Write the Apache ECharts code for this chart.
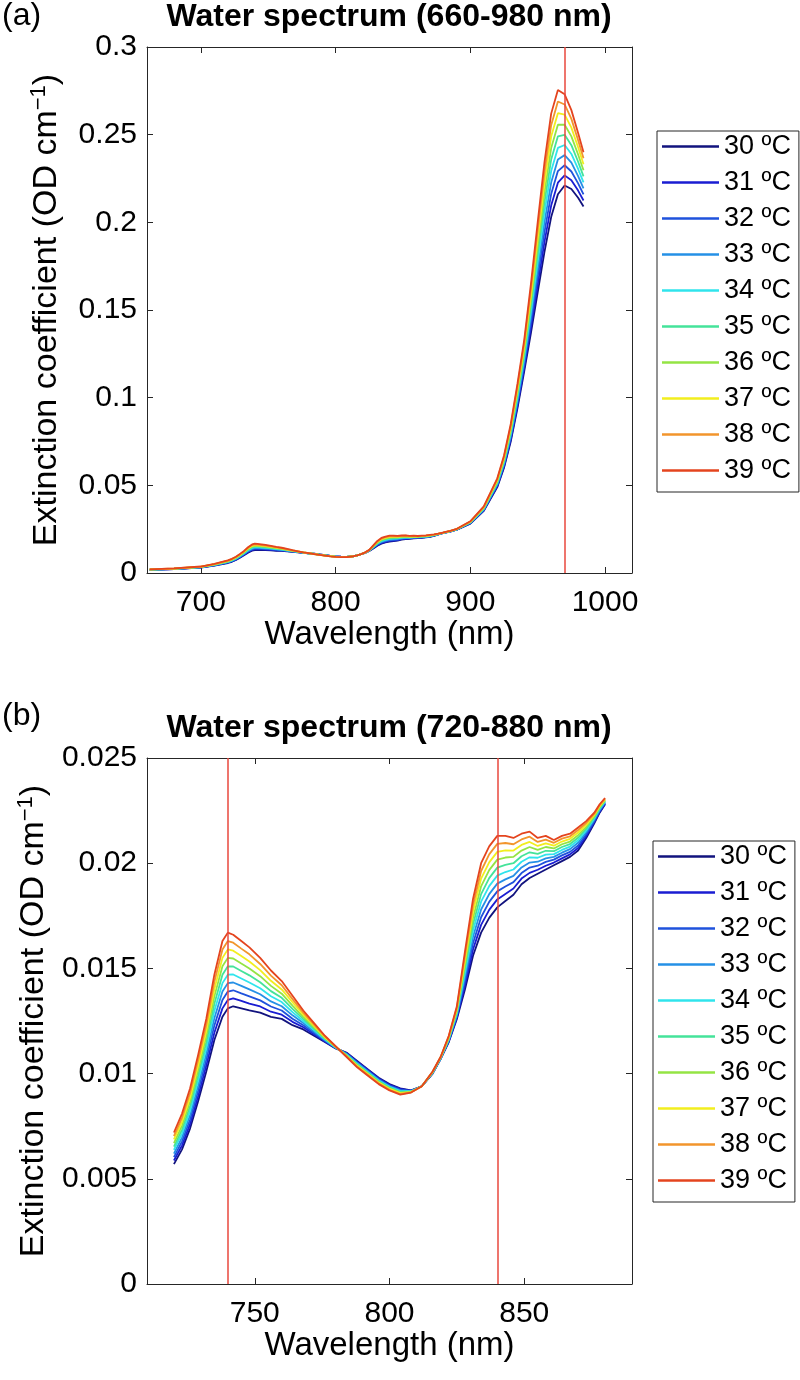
<!DOCTYPE html>
<html><head><meta charset="utf-8">
<script src="https://cdn.jsdelivr.net/npm/echarts@6/dist/echarts.min.js"></script>
<style>html,body{margin:0;padding:0;background:#fff}#c{width:800px;height:1380px}</style>
</head><body><div id="c"></div>
<script>
// Wavelength (nm)
const wavelength = [662,680,700,710,720,723,726,729,732,735,738,740,742,745,748,752,756,760,764,768,772,776,780,784,788,792,796,800,804,808,812,816,819,822,825,828,831,834,837,840,843,846,849,852,855,858,861,864,867,870,873,876,878,880,885,890,900,910,920,925,930,935,940,945,950,955,960,965,970,975,980,984];
// Extinction coefficient (OD cm^-1) per temperature
const t30 = [0.0018,0.0022,0.0031,0.0042,0.0057,0.0064,0.0074,0.0087,0.0101,0.0116,0.0127,0.0131,0.0132,0.0131,0.0130,0.0129,0.0127,0.0126,0.0123,0.0121,0.0118,0.0115,0.0112,0.0110,0.0106,0.0102,0.0098,0.0095,0.0093,0.0092,0.0094,0.0100,0.0107,0.0115,0.0126,0.0140,0.0156,0.0167,0.0174,0.0179,0.0182,0.0185,0.0190,0.0193,0.0195,0.0197,0.0199,0.0201,0.0203,0.0206,0.0212,0.0219,0.0224,0.0228,0.0236,0.0247,0.0282,0.0355,0.049,0.060,0.075,0.094,0.115,0.137,0.160,0.183,0.203,0.216,0.221,0.219,0.214,0.209];
const t31 = [0.00183,0.00224,0.00317,0.00431,0.00587,0.00659,0.00761,0.00894,0.01038,0.01194,0.0131,0.0135,0.01358,0.01346,0.01333,0.01319,0.01294,0.0128,0.01246,0.0122,0.01187,0.01153,0.01121,0.01098,0.01057,0.01017,0.00977,0.00947,0.00927,0.00919,0.0094,0.01001,0.01071,0.01153,0.01267,0.0142,0.0159,0.01707,0.01778,0.01828,0.01854,0.0188,0.01927,0.01954,0.01969,0.01988,0.02003,0.02023,0.02042,0.02072,0.02129,0.02196,0.02244,0.02283,0.02364,0.02476,0.02834,0.03578,0.04956,0.06078,0.07611,0.09556,0.117,0.14011,0.16444,0.18867,0.20956,0.22261,0.22678,0.224,0.21811,0.21244];
const t32 = [0.00187,0.00229,0.00323,0.00442,0.00603,0.00678,0.00782,0.00919,0.01066,0.01229,0.0135,0.0139,0.01396,0.01381,0.01367,0.01348,0.01319,0.013,0.01261,0.0123,0.01193,0.01157,0.01122,0.01096,0.01053,0.01013,0.00973,0.00943,0.00923,0.00918,0.0094,0.01002,0.01072,0.01157,0.01273,0.0144,0.0162,0.01743,0.01816,0.01866,0.01889,0.0191,0.01953,0.01979,0.01988,0.02006,0.02017,0.02037,0.02054,0.02084,0.02138,0.02201,0.02249,0.02287,0.02369,0.02481,0.02849,0.03606,0.05011,0.06156,0.07722,0.09711,0.119,0.14322,0.16889,0.19433,0.21611,0.22922,0.23256,0.229,0.22222,0.21589];
const t33 = [0.0019,0.00233,0.0033,0.00453,0.0062,0.00697,0.00803,0.00943,0.01093,0.01263,0.0139,0.0143,0.01433,0.01417,0.014,0.01377,0.01343,0.0132,0.01277,0.0124,0.012,0.0116,0.01123,0.01093,0.0105,0.0101,0.0097,0.0094,0.0092,0.00917,0.0094,0.01003,0.01073,0.0116,0.0128,0.0146,0.0165,0.0178,0.01853,0.01903,0.01923,0.0194,0.0198,0.02003,0.02007,0.02023,0.0203,0.0205,0.02067,0.02097,0.02147,0.02207,0.02253,0.0229,0.02373,0.02487,0.02863,0.03633,0.05067,0.06233,0.07833,0.09867,0.121,0.14633,0.17333,0.2,0.22267,0.23583,0.23833,0.234,0.22633,0.21933];
const t34 = [0.00193,0.00238,0.00337,0.00464,0.00637,0.00716,0.00824,0.00968,0.01121,0.01298,0.0143,0.0147,0.01471,0.01452,0.01433,0.01406,0.01368,0.0134,0.01292,0.0125,0.01207,0.01163,0.01124,0.01091,0.01047,0.01007,0.00967,0.00937,0.00917,0.00916,0.0094,0.01004,0.01074,0.01163,0.01287,0.0148,0.0168,0.01817,0.01891,0.01941,0.01958,0.0197,0.02007,0.02028,0.02026,0.02041,0.02043,0.02063,0.02079,0.02109,0.02156,0.02212,0.02258,0.02293,0.02378,0.02492,0.02878,0.03661,0.05122,0.06311,0.07944,0.10022,0.123,0.14944,0.17778,0.20567,0.22922,0.24244,0.24411,0.239,0.23044,0.22278];
const t35 = [0.00197,0.00242,0.00343,0.00476,0.00653,0.00734,0.00846,0.00992,0.01149,0.01332,0.0147,0.0151,0.01509,0.01488,0.01467,0.01434,0.01392,0.0136,0.01308,0.0126,0.01213,0.01167,0.01126,0.01089,0.01043,0.01003,0.00963,0.00933,0.00913,0.00914,0.0094,0.01006,0.01076,0.01167,0.01293,0.015,0.0171,0.01853,0.01929,0.01979,0.01992,0.02,0.02033,0.02052,0.02044,0.02059,0.02057,0.02077,0.02091,0.02121,0.02164,0.02218,0.02262,0.02297,0.02382,0.02498,0.02892,0.03689,0.05178,0.06389,0.08056,0.10178,0.125,0.15256,0.18222,0.21133,0.23578,0.24906,0.24989,0.244,0.23456,0.22622];
const t36 = [0.002,0.00247,0.0035,0.00487,0.0067,0.00753,0.00867,0.01017,0.01177,0.01367,0.0151,0.0155,0.01547,0.01523,0.015,0.01463,0.01417,0.0138,0.01323,0.0127,0.0122,0.0117,0.01127,0.01087,0.0104,0.01,0.0096,0.0093,0.0091,0.00913,0.0094,0.01007,0.01077,0.0117,0.013,0.0152,0.0174,0.0189,0.01967,0.02017,0.02027,0.0203,0.0206,0.02077,0.02063,0.02077,0.0207,0.0209,0.02103,0.02133,0.02173,0.02223,0.02267,0.023,0.02387,0.02503,0.02907,0.03717,0.05233,0.06467,0.08167,0.10333,0.127,0.15567,0.18667,0.217,0.24233,0.25567,0.25567,0.249,0.23867,0.22967];
const t37 = [0.00203,0.00251,0.00357,0.00498,0.00687,0.00772,0.00888,0.01041,0.01204,0.01401,0.0155,0.0159,0.01584,0.01559,0.01533,0.01492,0.01441,0.014,0.01339,0.0128,0.01227,0.01173,0.01128,0.01084,0.01037,0.00997,0.00957,0.00927,0.00907,0.00912,0.0094,0.01008,0.01078,0.01173,0.01307,0.0154,0.0177,0.01927,0.02004,0.02054,0.02061,0.0206,0.02087,0.02101,0.02082,0.02094,0.02083,0.02103,0.02116,0.02146,0.02182,0.02229,0.02271,0.02303,0.02391,0.02509,0.02921,0.03744,0.05289,0.06544,0.08278,0.10489,0.129,0.15878,0.19111,0.22267,0.24889,0.26228,0.26144,0.254,0.24278,0.23311];
const t38 = [0.00207,0.00256,0.00363,0.00509,0.00703,0.00791,0.00909,0.01066,0.01232,0.01436,0.0159,0.0163,0.01622,0.01594,0.01567,0.01521,0.01466,0.0142,0.01354,0.0129,0.01233,0.01177,0.01129,0.01082,0.01033,0.00993,0.00953,0.00923,0.00903,0.00911,0.0094,0.01009,0.01079,0.01177,0.01313,0.0156,0.018,0.01963,0.02042,0.02092,0.02096,0.0209,0.02113,0.02126,0.02101,0.02112,0.02097,0.02117,0.02128,0.02158,0.02191,0.02234,0.02276,0.02307,0.02396,0.02514,0.02936,0.03772,0.05344,0.06622,0.08389,0.10644,0.131,0.16189,0.19556,0.22833,0.25544,0.26889,0.26722,0.259,0.24689,0.23656];
const t39 = [0.0021,0.0026,0.0037,0.0052,0.0072,0.0081,0.0093,0.0109,0.0126,0.0147,0.0163,0.0167,0.0166,0.0163,0.0160,0.0155,0.0149,0.0144,0.0137,0.0130,0.0124,0.0118,0.0113,0.0108,0.0103,0.0099,0.0095,0.0092,0.0090,0.0091,0.0094,0.0101,0.0108,0.0118,0.0132,0.0158,0.0183,0.0200,0.0208,0.0213,0.0213,0.0212,0.0214,0.0215,0.0212,0.0213,0.0211,0.0213,0.0214,0.0217,0.0220,0.0224,0.0228,0.0231,0.0240,0.0252,0.0295,0.0380,0.0540,0.0670,0.0850,0.1080,0.1330,0.1650,0.2000,0.2340,0.2620,0.2755,0.2730,0.2640,0.2510,0.2400];

const seriesNames = ['30 ºC','31 ºC','32 ºC','33 ºC','34 ºC','35 ºC','36 ºC','37 ºC','38 ºC','39 ºC'];
const seriesColors = ['#12137e','#1a1dd2','#1f52dc','#2590e6','#30e4ec','#44e39a','#94e444','#f2ee1e','#f2952c','#e4441e'];
const xTicksA = [700, 800, 900, 1000];
const yTicksA = [0, 0.05, 0.1, 0.15, 0.2, 0.25, 0.3];
const xTicksB = [750, 800, 850];
const yTicksB = [0, 0.005, 0.01, 0.015, 0.02, 0.025];
const markersA = [970];
const markersB = [740, 840];
const rangeB = [720, 880];

const temps = [t30,t31,t32,t33,t34,t35,t36,t37,t38,t39];
const FONT = 'Liberation Sans, Arial, Helvetica, sans-serif';
const AX = '#262626';
const TICK_FS = 30, NAME_FS = 33;

function xAxes(grid, min, max, ticks) {
  const common = {gridIndex: grid, type: 'value', min: min, max: max,
    axisLine: {show: true, onZero: false, lineStyle: {color: AX, width: 1}},
    axisTick: {show: true, inside: true, length: 6, customValues: ticks, lineStyle: {color: AX}},
    splitLine: {show: false}};
  return [
    Object.assign({}, common, {position: 'bottom',
      axisLabel: {customValues: ticks, fontSize: TICK_FS, color: '#000', margin: 15, fontFamily: FONT,
        formatter: v => String(v)},
      name: 'Wavelength (nm)', nameLocation: 'middle', nameGap: 45,
      nameTextStyle: {fontSize: NAME_FS, color: '#000', fontFamily: FONT}}),
    Object.assign({}, common, {position: 'top', axisLabel: {show: false}})
  ];
}
function yAxes(grid, max, ticks) {
  const common = {gridIndex: grid, type: 'value', min: 0, max: max,
    axisLine: {show: true, onZero: false, lineStyle: {color: AX, width: 1}},
    axisTick: {show: true, inside: true, length: 6, customValues: ticks, lineStyle: {color: AX}},
    splitLine: {show: false}};
  return [
    Object.assign({}, common, {position: 'left',
      axisLabel: {customValues: ticks, fontSize: TICK_FS, color: '#000', margin: 10, fontFamily: FONT,
        formatter: v => String(v)},
      name: '{a|Extinction coefficient (OD cm}{b|−1}{a|)}', nameLocation: 'middle', nameGap: 81,
      nameTextStyle: {color: '#000', fontFamily: FONT, rich: {
        a: {fontSize: 34, lineHeight: 38, color: '#000', fontFamily: FONT},
        b: {fontSize: 22, lineHeight: 22, verticalAlign: 'top', color: '#000', fontFamily: FONT}}}}),
    Object.assign({}, common, {position: 'right', axisLabel: {show: false}})
  ];
}

const series = [];
temps.forEach((arr, k) => {
  const dA = wavelength.map((w, i) => [w, arr[i]]);
  const dB = wavelength.map((w, i) => [w, arr[i]]).filter(p => p[0] >= rangeB[0] && p[0] <= rangeB[1]);
  const base = {type: 'line', name: seriesNames[k], symbol: 'none', color: seriesColors[k],
    lineStyle: {width: 1.8, color: seriesColors[k]}, animation: false, silent: true};
  const sA = Object.assign({}, base, {xAxisIndex: 0, yAxisIndex: 0, data: dA});
  const sB = Object.assign({}, base, {xAxisIndex: 2, yAxisIndex: 2, data: dB});
  if (k === temps.length - 1) {
    const ml = (vals) => ({silent: true, symbol: ['none', 'none'], label: {show: false},
      lineStyle: {color: '#e8473c', width: 1.5, type: 'solid'}, animation: false,
      data: vals.map(v => ({xAxis: v}))});
    sA.markLine = ml(markersA);
    sB.markLine = ml(markersB);
  }
  series.push(sA, sB);
});

const legendBase = {orient: 'vertical', data: seriesNames, icon: 'rect', itemWidth: 57, itemHeight: 2.5,
  itemGap: 9, backgroundColor: '#fff', borderColor: AX, borderWidth: 1, borderRadius: 0,
  selectedMode: false,
  textStyle: {fontSize: 27, lineHeight: 27, color: '#000', fontFamily: FONT}};

const option = {
  backgroundColor: '#fff',
  animation: false,
  textStyle: {fontFamily: FONT},
  grid: [
    {left: 147, top: 47, width: 485, height: 526},
    {left: 147, top: 758, width: 485, height: 526}
  ],
  xAxis: [].concat(xAxes(0, 660, 1020, xTicksA), xAxes(1, 710, 890, xTicksB)),
  yAxis: [].concat(yAxes(0, 0.3, yTicksA), yAxes(1, 0.025, yTicksB)),
  legend: [
    Object.assign({}, legendBase, {left: 657, top: 131, padding: [2, 8, 8, 5]}),
    Object.assign({}, legendBase, {left: 653, top: 841, padding: [2, 8, 8, 5]})
  ],
  graphic: [
    {type: 'text', left: 2, top: 0, style: {text: '(a)', fontSize: 32, fontFamily: FONT, fill: '#000'}},
    {type: 'text', x: 389, y: 17, style: {text: 'Water spectrum (660-980 nm)', fontSize: 32, fontWeight: 'bold', fontFamily: FONT, fill: '#000', align: 'center', verticalAlign: 'middle'}},
    {type: 'text', left: 2, top: 700, style: {text: '(b)', fontSize: 32, fontFamily: FONT, fill: '#000'}},
    {type: 'text', x: 389, y: 728, style: {text: 'Water spectrum (720-880 nm)', fontSize: 32, fontWeight: 'bold', fontFamily: FONT, fill: '#000', align: 'center', verticalAlign: 'middle'}}
  ],
  series: series
};
const chart = echarts.init(document.getElementById('c'), null, {renderer: 'canvas'});
chart.setOption(option);
</script></body></html>
